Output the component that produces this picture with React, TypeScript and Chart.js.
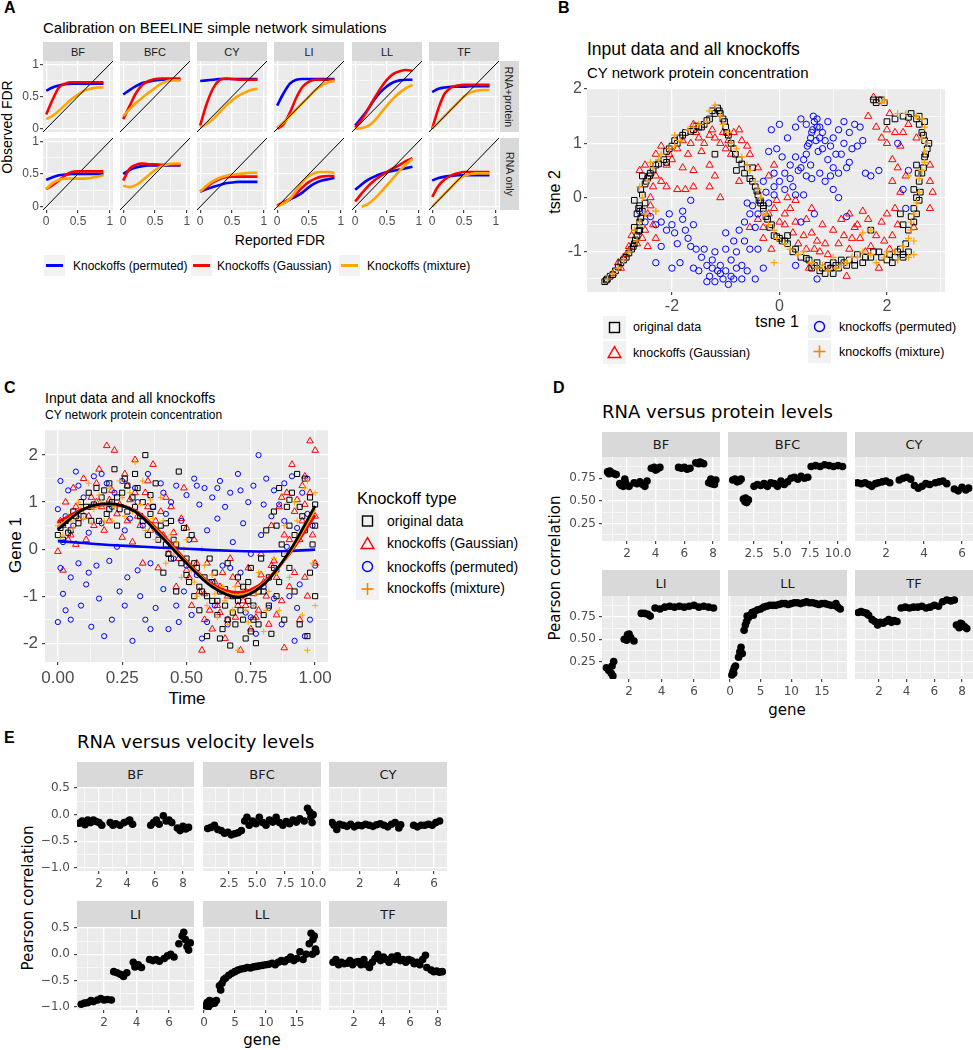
import React, { useEffect, useRef } from 'react';
import { Chart, registerables } from 'chart.js';
Chart.register(...registerables);

const FL = '"Liberation Sans", Arial, sans-serif';
const FD = '"DejaVu Sans", sans-serif';

// ---------------- Panel A data ----------------
const calibNets = ['BF', 'BFC', 'CY', 'LI', 'LL', 'TF'];
const calibRows = ['RNA+protein', 'RNA only'];
const reportedFdr = [0, 0.1, 0.2, 0.3, 0.4, 0.5, 0.6, 0.7, 0.8, 0.9];
const permutedProtein = [
  [0.59, 0.64, 0.67, 0.69, 0.70, 0.70, 0.70, 0.70, 0.70, 0.70],
  [0.53, 0.60, 0.66, 0.71, 0.73, 0.75, 0.76, 0.76, 0.76, 0.76],
  [0.74, 0.75, 0.76, 0.77, 0.77, 0.77, 0.77, 0.77, 0.77, 0.77],
  [0.36, 0.55, 0.70, 0.76, 0.77, 0.77, 0.77, 0.77, 0.77, 0.77],
  [0.05, 0.17, 0.30, 0.45, 0.57, 0.66, 0.72, 0.75, 0.76, 0.76],
  [0.57, 0.62, 0.64, 0.65, 0.65, 0.65, 0.66, 0.66, 0.66, 0.66],
];
const gaussianProtein = [
  [0.22, 0.45, 0.64, 0.70, 0.72, 0.72, 0.72, 0.72, 0.72, 0.72],
  [0.15, 0.35, 0.55, 0.68, 0.74, 0.77, 0.78, 0.78, 0.78, 0.78],
  [0.05, 0.38, 0.62, 0.75, 0.78, 0.77, 0.76, 0.76, 0.76, 0.76],
  [0.00, 0.07, 0.25, 0.48, 0.65, 0.73, 0.76, 0.76, 0.76, 0.76],
  [0.02, 0.14, 0.30, 0.47, 0.63, 0.76, 0.85, 0.89, 0.91, 0.90],
  [0.00, 0.32, 0.55, 0.64, 0.67, 0.68, 0.68, 0.68, 0.68, 0.68],
];
const mixtureProtein = [
  [0.15, 0.20, 0.28, 0.37, 0.46, 0.53, 0.59, 0.62, 0.64, 0.64],
  [0.20, 0.30, 0.40, 0.48, 0.56, 0.63, 0.70, 0.74, 0.75, 0.75],
  [0.02, 0.07, 0.15, 0.25, 0.35, 0.44, 0.51, 0.56, 0.60, 0.62],
  [0.02, 0.10, 0.20, 0.30, 0.40, 0.50, 0.60, 0.67, 0.72, 0.74],
  [0.00, 0.01, 0.04, 0.12, 0.24, 0.36, 0.47, 0.56, 0.63, 0.68],
  [0.00, 0.10, 0.20, 0.30, 0.40, 0.50, 0.56, 0.59, 0.60, 0.60],
];
const permutedRna = [
  [0.41, 0.45, 0.48, 0.49, 0.50, 0.50, 0.50, 0.50, 0.50, 0.50],
  [0.50, 0.56, 0.60, 0.62, 0.63, 0.63, 0.63, 0.63, 0.63, 0.63],
  [0.23, 0.27, 0.30, 0.33, 0.36, 0.37, 0.38, 0.38, 0.38, 0.38],
  [0.01, 0.06, 0.11, 0.16, 0.22, 0.30, 0.36, 0.40, 0.42, 0.44],
  [0.26, 0.34, 0.41, 0.46, 0.50, 0.53, 0.55, 0.57, 0.59, 0.61],
  [0.40, 0.44, 0.46, 0.47, 0.48, 0.48, 0.48, 0.48, 0.48, 0.48],
];
const gaussianRna = [
  [0.27, 0.33, 0.40, 0.48, 0.53, 0.54, 0.54, 0.54, 0.54, 0.54],
  [0.40, 0.58, 0.64, 0.66, 0.65, 0.65, 0.64, 0.64, 0.64, 0.64],
  [0.23, 0.30, 0.37, 0.42, 0.45, 0.46, 0.46, 0.46, 0.46, 0.46],
  [0.02, 0.07, 0.12, 0.20, 0.30, 0.38, 0.43, 0.46, 0.47, 0.47],
  [0.08, 0.20, 0.31, 0.40, 0.47, 0.53, 0.59, 0.64, 0.70, 0.74],
  [0.15, 0.32, 0.42, 0.48, 0.51, 0.53, 0.53, 0.53, 0.53, 0.53],
];
const mixtureRna = [
  [0.27, 0.36, 0.41, 0.43, 0.43, 0.43, 0.43, 0.44, 0.46, 0.48],
  [0.32, 0.30, 0.33, 0.40, 0.48, 0.56, 0.62, 0.65, 0.66, 0.66],
  [0.23, 0.32, 0.39, 0.44, 0.47, 0.49, 0.50, 0.51, 0.52, 0.52],
  [0.00, 0.05, 0.12, 0.25, 0.38, 0.47, 0.52, 0.53, 0.53, 0.52],
  [null, 0.00, 0.04, 0.12, 0.22, 0.33, 0.44, 0.55, 0.65, 0.73],
  [0.00, 0.10, 0.20, 0.30, 0.40, 0.47, 0.50, 0.51, 0.51, 0.51],
];
const fdrMajor = [0, 0.5, 1];
const fdrMinor = [0.25, 0.75];
const identityLine = [-0.05, 1.05];

// ---------------- Panel B data (tsne) ----------------
const tsneOriginal = [
  [-3.25, -1.55], [-3.2, -1.5], [-3.15, -1.45], [-3.05, -1.35], [-2.95, -1.2], [-2.85, -1.1], [-2.75, -0.95], [-2.7, -0.85],
  [-2.65, -0.7], [-2.7, -0.55], [-2.6, -0.45], [-2.65, -0.3], [-2.55, -0.25], [-2.6, -0.15], [-2.7, -0.05], [-2.55, 0.05],
  [-2.5, 0.25], [-2.45, 0.35], [-2.55, 0.4], [-2.4, 0.45], [-2.3, 0.6], [-2.15, 0.7], [-2.1, 0.85], [-2.0, 0.95],
  [-1.95, 1.05], [-1.85, 1.1], [-1.75, 1.2], [-1.6, 1.25], [-1.5, 1.3], [-1.4, 1.35], [-1.3, 1.45], [-1.25, 1.6],
  [-1.15, 1.65], [-1.1, 1.55], [-1.05, 1.45], [-1.0, 1.3], [-0.95, 1.15], [-0.85, 0.9], [-0.75, 0.7], [-0.8, 0.5],
  [-0.6, 0.55], [-0.55, 0.35], [-0.45, 0.2], [-0.4, 0.05], [-0.35, -0.1], [-0.3, -0.2], [-0.25, -0.35], [-0.15, -0.5],
  [-0.1, -0.7], [0.0, -0.75], [0.05, -0.8], [0.15, -0.85], [0.25, -1.0], [0.4, -1.1], [0.55, -1.15], [0.7, -1.2],
  [0.8, -1.3], [0.9, -1.25], [1.0, -1.2], [1.1, -1.3], [1.2, -1.2], [1.3, -1.15], [1.45, -1.05], [1.6, -1.1],
  [1.75, -1.0], [1.9, -1.1], [2.05, -1.05], [2.2, -1.0], [2.3, -1.05], [2.35, -0.85], [2.3, -0.5], [2.45, -0.35],
  [2.5, -0.2], [2.55, 0.0], [2.5, 0.15], [2.6, 0.3], [2.65, 0.45], [2.55, 0.6], [2.7, 0.75], [2.75, 0.9],
  [2.7, 1.05], [2.65, 1.2], [2.6, 1.35], [2.6, 1.5], [2.45, 1.55], [2.3, 1.5], [2.15, 1.45], [2.0, 1.4],
  [1.75, 1.8], [1.85, 1.8], [1.95, 1.75], [2.3, -1.1], [1.0, -1.4], [1.7, -0.6], [-0.5, 0.55], [-1.2, 0.8],
  [-2.1, 0.65], [0.15, -0.7], [2.25, -0.3], [0.6, -1.3], [0.85, -1.4], [1.4, -1.25], [2.1, -1.2], [-2.6, -0.6],
  [-3.22, -1.52], [-3.1, -1.42], [-3.0, -1.28], [-2.9, -1.15], [-2.8, -1.02], [-2.72, -0.9], [-2.68, -0.78], [-2.62, -0.62],
  [-2.58, -0.38], [-2.62, -0.2], [-2.5, -0.1], [-2.58, 0.15], [-2.48, 0.3], [-2.42, 0.4], [-2.35, 0.52], [-2.25, 0.62],
  [-2.05, 0.9], [-1.9, 1.0], [-1.8, 1.15], [-1.65, 1.22], [-1.55, 1.32], [-1.45, 1.3], [-1.35, 1.42], [-1.2, 1.55],
  [-1.12, 1.6], [-1.02, 1.4], [-0.98, 1.2], [-0.9, 1.0], [-0.82, 0.8], [-0.7, 0.62], [-0.65, 0.45], [-0.5, 0.3],
  [-0.42, 0.12], [-0.38, -0.05], [-0.3, -0.15], [-0.22, -0.4], [-0.18, -0.55], [-0.05, -0.72], [0.1, -0.8], [0.3, -0.95],
  [0.5, -1.12], [0.65, -1.25], [0.75, -1.35], [0.95, -1.3], [1.05, -1.25], [1.15, -1.15], [1.25, -1.25], [1.4, -1.15],
  [1.55, -1.2], [1.7, -1.1], [1.85, -1.0], [2.0, -1.15], [2.15, -1.1], [2.25, -0.95], [2.4, -1.0], [2.4, -0.6],
  [2.5, -0.45], [2.55, -0.3], [2.6, -0.05], [2.62, 0.1], [2.58, 0.45], [2.68, 0.55], [2.72, 0.8], [2.78, 1.0],
  [2.68, 1.15], [2.7, 1.4], [2.55, 1.45], [2.4, 1.48], [1.8, 1.75], [1.9, 1.8],
];
const tsneGaussian = [
  [-3.1, -1.4], [-2.95, -1.3], [-2.85, -1.05], [-2.75, -0.7], [-2.5, -0.6], [-2.45, -0.3], [-2.4, 0.0], [-2.35, 0.2],
  [-2.6, 0.5], [-2.3, 0.4], [-2.2, 0.3], [-2.1, 0.6], [-2.05, 0.8], [-1.9, 0.9], [-1.8, 1.05], [-1.65, 1.0],
  [-1.5, 1.1], [-1.4, 1.0], [-1.3, 1.15], [-1.2, 1.1], [-1.1, 1.0], [-0.95, 1.05], [-0.85, 1.2], [-0.75, 1.25],
  [-0.6, 0.95], [-0.55, 0.8], [-0.4, 0.55], [-0.2, 0.4], [-0.1, 0.6], [-2.0, 0.7], [-1.8, 0.55], [-1.6, 0.5],
  [-1.3, 0.6], [-1.6, 0.2], [-1.75, 0.15], [-1.9, 0.15], [-1.1, 0.0], [-0.55, -0.55], [-0.4, -0.4], [-0.2, -0.3],
  [0.1, -0.3], [0.1, -0.5], [0.3, -0.45], [0.25, -0.65], [0.45, -0.7], [0.6, -0.65], [0.7, -0.8], [0.85, -0.85],
  [1.0, -0.6], [1.2, -0.7], [1.4, -0.55], [1.5, -0.75], [1.65, -0.4], [1.7, -0.9], [1.95, -0.8], [2.1, -0.7],
  [2.2, -0.5], [2.15, -0.2], [2.25, 0.1], [2.35, 0.4], [2.1, 0.7], [2.25, 0.95], [2.3, 1.2], [2.55, 1.1],
  [2.8, 0.6], [2.8, -0.2], [2.0, 1.25], [1.8, 1.3], [1.65, 1.5], [1.75, 1.85], [0.3, -0.05], [0.95, -1.3],
  [1.25, -1.45], [0.55, -1.3], [-0.15, -0.95], [-0.3, -0.75], [1.15, -0.4], [0.6, -0.2], [1.45, -0.5], [2.05, 1.55],
  [-2.8, -0.9], [-2.45, -0.9], [-2.3, -0.75], [0.0, -0.45], [0.5, -0.95], [0.75, -1.0], [1.3, -0.95], [1.85, -1.3],
  [-2.9, -1.1], [-2.65, -0.85], [-2.55, -0.75], [-2.35, -0.5], [-2.5, 0.6], [-2.3, 0.8], [-2.2, 0.95], [-1.7, 0.8],
  [-1.55, 1.2], [-1.45, 0.85], [-1.25, 1.25], [-1.0, 0.9], [-0.9, 0.8], [-0.7, 1.05], [-0.75, 0.3], [-1.3, 0.2],
  [-2.1, 0.2], [-1.2, 0.4], [-0.3, -0.55], [-0.1, -0.2], [0.2, -0.2], [0.35, -0.85], [0.5, -0.4], [0.65, -0.95],
  [0.8, -0.5], [0.9, -1.05], [1.1, -0.85], [1.3, -0.3], [1.35, -0.75], [1.55, -0.25], [1.6, -1.0], [1.8, -0.7],
  [1.9, -0.45], [2.05, -0.95], [2.0, -0.3], [2.1, 0.3], [2.2, 0.55], [2.0, 1.0], [2.4, 1.35], [2.15, 1.2],
  [1.9, 1.1], [2.5, -0.55], [2.8, 0.3], [2.85, 0.1], [-0.05, -0.05], [0.15, 0.0], [-1.05, 1.2], [-1.6, 1.35],
  [-2.4, -0.15], [-3.0, -1.2],
];
const tsnePermuted = [
  [-2.6, -0.25], [-2.4, -0.35], [-2.3, -0.5], [-2.1, -0.6], [-1.95, -0.65], [-1.9, -0.85], [-2.05, -0.3], [-1.8, -0.4],
  [-1.6, -0.5], [-1.7, -0.75], [-1.55, -0.95], [-1.45, -1.1], [-1.35, -1.25], [-1.3, -1.45], [-1.2, -1.55], [-1.05, -1.5],
  [-0.9, -1.45], [-0.8, -1.3], [-0.7, -1.25], [-1.1, -1.25], [-1.2, -1.0], [-1.0, -0.95], [-0.85, -0.8], [-0.75, -0.6],
  [-0.65, -0.45], [-0.55, -0.3], [-0.5, -0.15], [-0.6, -0.1], [-0.35, -0.05], [-0.25, 0.1], [-0.1, 0.2], [0.0, 0.3],
  [-2.3, -1.2], [-2.0, -1.3], [-1.8, -0.25], [-1.65, -0.05], [-1.0, -0.65], [-0.9, -1.15], [-0.4, -0.95], [-1.5, -1.35],
  [0.1, 0.45], [0.2, 0.6], [0.3, 0.75], [0.4, 0.55], [0.5, 0.8], [0.55, 1.0], [0.6, 1.2], [0.65, 1.4],
  [0.7, 1.3], [0.75, 1.1], [0.8, 0.9], [0.9, 0.7], [1.0, 0.55], [1.1, 0.45], [1.15, 0.8], [1.2, 1.0],
  [1.3, 1.2], [1.4, 1.35], [1.5, 1.3], [1.45, 0.95], [1.3, 0.65], [0.9, 1.4], [0.5, 1.35], [0.3, 1.3],
  [-0.2, 0.85], [-0.05, 0.9], [0.0, 1.35], [-0.15, 1.25], [0.05, 0.75], [0.25, 0.2], [0.45, 0.05], [0.6, 0.35],
  [0.85, 0.3], [1.0, 0.15], [1.1, 0.0], [1.6, 0.45], [1.7, 0.4], [2.4, 0.5], [2.3, 0.15], [2.2, 1.0],
  [0.65, -0.3], [0.4, -0.45], [0.7, -1.5], [-0.55, -0.95], [1.25, -0.35], [0.3, -1.25], [0.62, 1.25], [0.68, 1.05],
  [0.72, 0.85], [0.58, 0.6], [-1.25, -1.3], [-1.1, -1.4], [-0.95, -1.6], [-1.35, -1.55], [-0.7, -1.5], [-0.45, -1.5],
  [-2.5, -0.45], [-2.2, -0.45], [-2.0, -0.5], [-1.75, -0.6], [-1.65, -0.9], [-1.4, -0.95], [-1.25, -1.15], [-1.15, -1.35],
  [-1.0, -1.35], [-0.85, -1.5], [-0.6, -1.35], [-0.8, -1.0], [-0.65, -0.8], [-0.45, -0.55], [-0.4, -0.3], [-0.2, -0.1],
  [-0.1, 0.05], [0.1, 0.15], [0.2, 0.35], [0.35, 0.5], [0.45, 0.7], [0.52, 0.95], [0.58, 1.1], [0.63, 1.5],
  [0.7, 1.45], [0.75, 1.3], [0.8, 1.2], [0.85, 1.05], [0.95, 0.95], [1.05, 0.8], [1.0, 1.1], [1.1, 1.25],
  [1.2, 1.4], [1.35, 0.9], [1.25, 0.55], [0.95, 0.4], [0.75, 0.45], [0.5, 0.4], [0.3, 0.05], [-0.3, 0.3],
  [-1.85, -1.2], [-2.2, -0.9], [-0.1, 0.45], [0.15, 1.1], [0.4, 1.45], [1.55, 1.05], [1.85, 0.5], [2.35, -0.2],
  [-0.3, -1.3], [-1.6, -1.3],
];
const tsneMixture = [
  [-3.2, -1.5], [-3.0, -1.3], [-2.8, -1.0], [-2.7, -0.6], [-2.5, -0.3], [-2.3, -0.25], [-2.6, 0.2], [-2.35, 0.55],
  [-2.25, 0.7], [-2.05, 0.9], [-1.85, 1.05], [-1.7, 1.25], [-1.5, 1.35], [-1.35, 1.4], [-1.2, 1.7], [-1.05, 1.35],
  [-0.9, 1.0], [-0.7, 0.75], [-0.55, 0.5], [-0.45, 0.3], [-0.35, 0.0], [-0.2, -0.5], [-0.05, -0.75], [0.2, -0.95],
  [0.45, -1.0], [0.7, -1.3], [0.9, -1.35], [1.15, -1.25], [1.35, -1.1], [1.55, -1.0], [1.8, -1.2], [2.0, -1.0],
  [2.2, -1.15], [2.4, -1.1], [2.5, -0.8], [2.45, -0.45], [2.55, -0.1], [2.6, 0.35], [2.7, 0.65], [2.75, 1.0],
  [2.7, 1.3], [2.55, 1.5], [2.2, 1.55], [1.9, 1.75], [1.7, -0.6], [2.4, -0.75], [-0.1, -1.2], [2.4, 0.4],
  [-2.3, -0.25], [-2.4, 0.65], [-1.95, 1.15], [-0.3, -0.3], [1.0, -1.1], [2.65, 1.1],
  [-3.1, -1.4], [-2.9, -1.15], [-2.65, -0.8], [-2.6, -0.45], [-2.55, 0.0], [-2.45, 0.3], [-2.2, 0.8], [-1.95, 0.95],
  [-1.6, 1.3], [-1.3, 1.6], [-1.1, 1.5], [-0.95, 1.2], [-0.8, 0.9], [-0.6, 0.6], [-0.4, 0.15], [-0.25, -0.3],
  [-0.1, -0.6], [0.1, -0.85], [0.35, -1.05], [0.6, -1.2], [0.8, -1.25], [1.05, -1.3], [1.25, -1.2], [1.45, -1.1],
  [1.7, -1.05], [1.95, -1.1], [2.15, -1.0], [2.3, -0.9], [2.45, -0.6], [2.5, -0.3], [2.6, 0.1], [2.65, 0.5],
  [2.7, 0.85], [2.65, 1.45], [2.35, 1.55], [1.95, 1.8], [2.5, -1.05], [1.55, -0.65],
];

// ---------------- Panel C data ----------------
const timeGrid = [0, 0.1, 0.2, 0.3, 0.4, 0.5, 0.6, 0.7, 0.8, 0.9, 1.0];
const fitOriginal = [0.42, 0.85, 0.97, 0.80, 0.28, -0.30, -0.80, -1.02, -0.75, -0.05, 0.92];
const fitMixture = [0.48, 0.84, 0.96, 0.81, 0.31, -0.28, -0.78, -0.98, -0.73, -0.08, 0.85];
const fitGaussian = [0.58, 0.85, 0.95, 0.82, 0.35, -0.25, -0.75, -0.92, -0.70, -0.10, 0.72];
const fitPermuted = [0.17, 0.13, 0.09, 0.06, 0.03, 0.01, -0.02, -0.04, -0.05, -0.04, -0.01];
const geneOriginal = [
  [0.0, 0.3], [0.01, 0.45], [0.02, 0.2], [0.03, 0.6], [0.05, 0.4], [0.06, 0.8], [0.08, 0.55], [0.09, 1.0],
  [0.1, 0.7], [0.12, 1.2], [0.13, 0.9], [0.15, 1.3], [0.16, 0.6], [0.17, 1.1], [0.19, 0.75], [0.2, 1.4],
  [0.21, 1.0], [0.22, 1.7], [0.23, 0.5], [0.25, 1.2], [0.26, 1.5], [0.27, 0.8], [0.29, 1.1], [0.3, 1.6],
  [0.31, 1.3], [0.32, 0.7], [0.33, 1.0], [0.34, 2.0], [0.35, 0.3], [0.37, 0.9], [0.38, 1.4], [0.4, 0.5],
  [0.41, -0.5], [0.42, 0.1], [0.43, -0.1], [0.44, 0.6], [0.45, 0.2], [0.46, -0.9], [0.47, 1.65], [0.48, -0.3],
  [0.49, 0.45], [0.5, -0.2], [0.51, -0.7], [0.52, 0.3], [0.53, -1.0], [0.54, -0.4], [0.55, -1.3], [0.57, -0.6],
  [0.58, -1.85], [0.59, -0.2], [0.6, -1.1], [0.61, -0.5], [0.62, -1.4], [0.63, -0.9], [0.64, -1.7], [0.65, -1.2],
  [0.66, -0.3], [0.67, -2.05], [0.68, -1.0], [0.69, -1.6], [0.7, -0.6], [0.71, -1.3], [0.72, -0.8], [0.73, -1.9],
  [0.74, -1.1], [0.75, -0.4], [0.76, -1.5], [0.77, -2.0], [0.78, -0.9], [0.79, -0.2], [0.8, -1.4], [0.81, 0.4],
  [0.82, -0.6], [0.83, -1.8], [0.84, 0.8], [0.85, -1.0], [0.86, 1.3], [0.87, 0.1], [0.88, -1.5], [0.89, 0.9],
  [0.9, -0.4], [0.91, 1.2], [0.92, 0.3], [0.93, 1.6], [0.94, -1.6], [0.95, 0.7], [0.96, 1.5], [0.97, -1.85],
  [0.98, 1.1], [0.99, 0.1], [1.0, -1.0], [1.0, 0.95], [0.14, 0.95], [0.24, 0.85], [0.36, 1.15], [0.56, -0.9],
  [0.02, 0.55], [0.04, 0.35], [0.07, 0.7], [0.11, 0.9], [0.13, 0.6], [0.18, 1.25], [0.2, 0.85], [0.23, 1.1],
  [0.27, 1.35], [0.3, 0.9], [0.33, 0.6], [0.36, 0.75], [0.39, 0.2], [0.42, 0.55], [0.44, -0.2], [0.46, 0.1],
  [0.5, -0.55], [0.53, -0.3], [0.55, -0.8], [0.58, -1.0], [0.6, -0.7], [0.62, -1.1], [0.65, -0.85], [0.66, -1.5],
  [0.68, -1.35], [0.7, -1.1], [0.72, -1.5], [0.74, -0.7], [0.76, -1.2], [0.78, -1.6], [0.8, -0.9], [0.82, -1.2],
  [0.84, -0.4], [0.86, -0.7], [0.88, -0.1], [0.9, 0.5], [0.92, -0.9], [0.94, 0.9], [0.96, 0.4], [0.98, -0.5],
  [1.0, 0.5], [0.85, 0.5], [0.9, 1.05], [0.75, -1.75], [0.63, -1.9],
];
const geneGaussian = [
  [0.0, -0.05], [0.01, 0.6], [0.02, -0.45], [0.03, 1.0], [0.05, 0.3], [0.06, 1.3], [0.07, 0.1], [0.09, 0.8],
  [0.1, 1.5], [0.11, 0.2], [0.13, 1.1], [0.14, 0.5], [0.16, 1.7], [0.17, 0.9], [0.19, 2.2], [0.2, 0.6],
  [0.21, 1.25], [0.22, 2.1], [0.24, 0.95], [0.25, 0.25], [0.26, 1.6], [0.28, 1.05], [0.29, 0.15], [0.3, 1.9],
  [0.31, 0.7], [0.33, -0.3], [0.34, 1.2], [0.36, 0.4], [0.37, 1.8], [0.39, -0.4], [0.4, 0.8], [0.42, 1.1],
  [0.43, -0.1], [0.45, 0.35], [0.46, -0.8], [0.48, 0.65], [0.49, 1.3], [0.5, -0.45], [0.52, -1.2], [0.53, 0.2],
  [0.55, -0.9], [0.56, -2.15], [0.57, -1.5], [0.58, -0.3], [0.6, -1.7], [0.61, -0.7], [0.62, -1.2], [0.64, -0.5],
  [0.65, -1.9], [0.66, -1.0], [0.67, -0.2], [0.69, -1.45], [0.7, -0.75], [0.71, -2.15], [0.72, -1.1], [0.74, -0.4],
  [0.75, -1.7], [0.76, -0.95], [0.78, -1.3], [0.79, -0.1], [0.8, -0.7], [0.82, -1.6], [0.83, 0.5], [0.84, -0.25],
  [0.86, 0.9], [0.87, -1.1], [0.88, -2.1], [0.89, 1.2], [0.9, 0.2], [0.91, 1.8], [0.92, -0.5], [0.93, 1.05],
  [0.94, -1.5], [0.95, 0.6], [0.96, 1.55], [0.97, -1.0], [0.98, 2.3], [0.99, 0.3], [1.0, 2.1], [1.0, -0.3],
  [0.08, 0.65], [0.15, 1.0], [0.27, 1.35], [0.35, 0.9], [0.63, -1.35], [0.73, -1.2], [0.85, -0.6], [0.96, 0.95],
  [0.02, 0.5], [0.04, 0.2], [0.07, 0.9], [0.12, 0.7], [0.15, 1.4], [0.18, 0.4], [0.2, 1.05], [0.23, 0.75],
  [0.27, 0.6], [0.3, 1.2], [0.32, 0.5], [0.35, 1.45], [0.38, 0.6], [0.41, 0.3], [0.44, 0.9], [0.47, -0.2],
  [0.5, 0.45], [0.51, -0.6], [0.54, -0.3], [0.57, -0.95], [0.59, -1.3], [0.63, -0.8], [0.66, -1.5], [0.68, -0.6],
  [0.7, -1.2], [0.73, -0.9], [0.77, -1.45], [0.79, -0.55], [0.81, -1.0], [0.83, -0.35], [0.85, -1.4], [0.88, 0.3],
  [0.9, -0.8], [0.92, 0.8], [0.94, 0.2], [0.96, -0.6], [0.98, 1.2], [1.0, 0.7], [0.87, 1.1], [0.95, 1.35],
];
const genePermuted = [
  [0.0, -1.55], [0.0, 0.85], [0.01, -0.4], [0.01, 1.45], [0.02, -0.95], [0.02, 0.15], [0.03, -1.3], [0.04, 1.25],
  [0.05, -0.6], [0.05, -1.5], [0.06, 0.5], [0.07, 1.65], [0.08, -0.3], [0.09, -1.2], [0.1, 1.1], [0.11, -0.75],
  [0.12, 0.35], [0.13, -1.65], [0.14, 1.55], [0.15, -0.35], [0.16, -1.05], [0.17, 0.55], [0.18, -1.85], [0.19, 1.4],
  [0.2, -0.25], [0.21, -1.5], [0.22, 1.2], [0.23, 0.05], [0.24, -0.9], [0.25, 1.45], [0.26, -1.2], [0.27, -0.6],
  [0.28, 0.65], [0.29, -1.95], [0.3, 1.3], [0.31, -0.45], [0.32, -1.0], [0.33, 0.5], [0.34, -1.5], [0.35, 1.6],
  [0.36, -0.3], [0.37, 0.9], [0.38, -1.25], [0.39, 0.35], [0.4, 1.4], [0.41, -0.85], [0.42, 0.75], [0.43, -1.7],
  [0.44, 1.0], [0.45, -0.2], [0.46, 1.35], [0.47, -1.55], [0.48, 0.6], [0.49, -0.9], [0.5, 1.15], [0.51, 0.2],
  [0.52, -1.4], [0.53, 1.5], [0.54, -0.55], [0.55, 0.95], [0.56, -1.9], [0.57, 1.3], [0.58, 0.4], [0.59, -0.7],
  [0.6, 1.1], [0.61, -1.2], [0.62, 0.65], [0.63, 1.45], [0.64, -0.35], [0.65, 0.9], [0.66, -1.6], [0.67, 1.2],
  [0.68, 0.15], [0.69, -0.95], [0.7, 1.6], [0.71, -0.5], [0.72, 0.55], [0.73, -1.35], [0.74, 1.0], [0.75, -0.1],
  [0.76, 1.35], [0.77, -1.8], [0.78, 2.0], [0.79, 0.3], [0.8, -0.8], [0.81, 1.5], [0.82, -1.25], [0.83, 0.7],
  [0.84, 1.25], [0.85, -0.45], [0.86, 0.95], [0.87, -1.6], [0.88, 1.4], [0.89, 0.05], [0.9, -1.0], [0.91, 1.55],
  [0.92, -1.95], [0.93, 0.45], [0.94, -0.75], [0.95, 1.2], [0.96, -1.85], [0.97, 0.75], [0.98, -1.5], [0.99, 0.5],
  [1.0, -0.35], [0.03, 0.7], [0.08, 1.35], [0.12, -0.5], [0.17, 1.6], [0.21, 0.9], [0.26, 0.4], [0.31, 1.0],
  [0.36, -1.7], [0.41, 1.2], [0.46, -1.2], [0.5, -0.35], [0.54, 1.35], [0.58, -1.55], [0.62, 1.3], [0.67, -0.4],
  [0.71, 1.25], [0.75, -1.45], [0.8, 0.95], [0.84, -1.05], [0.88, 0.6], [0.93, -1.25], [0.97, 1.5],
];
const geneMixture = [
  [0.0, 0.5], [0.02, 0.3], [0.04, 0.7], [0.06, 0.45], [0.08, 1.0], [0.1, 0.65], [0.12, 1.4], [0.14, 0.85],
  [0.16, 1.15], [0.18, 0.6], [0.2, 1.3], [0.22, 0.9], [0.24, 1.45], [0.26, 0.7], [0.28, 1.2], [0.3, 1.85],
  [0.32, 0.95], [0.34, 0.4], [0.36, 1.05], [0.38, 0.2], [0.4, 1.1], [0.42, -0.3], [0.44, 0.3], [0.46, 0.15],
  [0.48, -0.6], [0.5, 0.2], [0.52, -0.45], [0.54, -1.0], [0.56, 0.0], [0.58, -1.2], [0.6, -0.55], [0.62, -1.45],
  [0.64, -0.8], [0.66, -1.6], [0.68, -1.3], [0.7, -2.15], [0.72, -0.9], [0.74, -1.55], [0.76, -1.2], [0.78, -0.5],
  [0.8, -1.75], [0.82, -0.9], [0.84, -0.2], [0.86, -1.3], [0.88, 0.5], [0.9, -0.6], [0.92, 1.0], [0.94, 0.3],
  [0.95, -1.4], [0.96, 1.3], [0.97, -2.15], [0.98, 0.6], [1.0, -1.2], [1.0, 1.2],
  [0.01, 0.2], [0.05, 0.6], [0.09, 0.85], [0.13, 0.55], [0.17, 1.0], [0.21, 0.6], [0.25, 1.1], [0.29, 0.8],
  [0.33, 1.45], [0.37, 0.65], [0.41, 0.6], [0.45, -0.1], [0.49, 0.0], [0.53, -0.7], [0.57, -0.35], [0.61, -0.95],
  [0.65, -1.1], [0.69, -0.8], [0.73, -1.3], [0.77, -0.95], [0.81, -1.3], [0.85, -0.5], [0.89, -0.1], [0.93, 0.6],
  [0.97, 1.45], [0.99, -0.3],
];

// ---------------- Panel D data (RNA vs protein) ----------------
const protBF = [
  [0.65, 0.82], [0.8, 0.83], [0.95, 0.81], [1.1, 0.8], [1.25, 0.79], [0.75, 0.8],
  [1.5, 0.69], [1.6, 0.67], [1.75, 0.66], [1.85, 0.74], [2.0, 0.67], [2.15, 0.66], [1.9, 0.7],
  [2.5, 0.7], [2.7, 0.69], [2.9, 0.71], [3.1, 0.68], [3.25, 0.66], [3.4, 0.72],
  [3.7, 0.86], [3.9, 0.87], [4.1, 0.85], [4.3, 0.87], [4.0, 0.84],
  [5.6, 0.87], [5.8, 0.86], [6.0, 0.87], [6.2, 0.85], [6.4, 0.86],
  [6.8, 0.92], [7.0, 0.91], [7.2, 0.92], [7.35, 0.91], [7.1, 0.93],
  [7.7, 0.7], [7.85, 0.74], [8.0, 0.71], [8.1, 0.68], [8.2, 0.73], [7.9, 0.69],
];
const protBFC = [
  [0.6, 0.73], [0.8, 0.74], [1.0, 0.71], [1.2, 0.72], [1.35, 0.74],
  [1.55, 0.52], [1.7, 0.49], [1.85, 0.48], [2.0, 0.51], [1.75, 0.53],
  [2.5, 0.66], [2.8, 0.68], [3.1, 0.67], [3.4, 0.69], [3.7, 0.66], [4.0, 0.7],
  [4.3, 0.69], [4.6, 0.66], [4.9, 0.72], [5.2, 0.68], [5.5, 0.71],
  [5.8, 0.75], [6.1, 0.76], [6.4, 0.74], [6.7, 0.77], [7.0, 0.75], [7.3, 0.76],
  [7.6, 0.88], [8.0, 0.89], [8.4, 0.88], [8.8, 0.9], [9.2, 0.89], [9.6, 0.88], [10.0, 0.89], [10.4, 0.88],
];
const protCY = [
  [0.5, 0.7], [0.7, 0.69], [0.9, 0.7], [1.1, 0.68], [1.25, 0.66], [1.45, 0.69], [1.6, 0.7], [1.8, 0.71],
  [2.0, 0.72], [2.2, 0.7], [2.7, 0.73], [2.9, 0.75], [3.1, 0.76], [3.3, 0.74], [3.5, 0.67], [3.7, 0.64],
  [3.9, 0.66], [4.1, 0.69], [4.3, 0.68], [4.6, 0.7], [4.8, 0.71], [5.0, 0.72], [5.2, 0.69], [5.6, 0.63],
  [5.8, 0.61], [6.0, 0.65], [6.2, 0.62], [6.35, 0.64],
];
const protLI = [
  [0.6, 0.18], [0.75, 0.15], [0.9, 0.12], [1.0, 0.09], [1.05, 0.25], [0.95, 0.2],
  [1.7, 0.5], [1.9, 0.55], [2.1, 0.52], [2.3, 0.48], [2.0, 0.56], [1.85, 0.49],
  [2.75, 0.79], [2.95, 0.79], [3.15, 0.78], [3.3, 0.76],
  [3.6, 0.85], [3.9, 0.84], [4.2, 0.86], [4.5, 0.87], [4.8, 0.86], [5.1, 0.87], [5.4, 0.86], [5.7, 0.87],
  [6.0, 0.88], [6.3, 0.86], [6.6, 0.87], [6.9, 0.86], [7.2, 0.85],
];
const protLL = [
  [0.3, 0.1], [0.5, 0.14], [0.7, 0.18], [0.9, 0.2], [0.6, 0.12], [1.4, 0.3], [1.6, 0.36], [1.8, 0.41],
  [2.0, 0.34], [2.3, 0.6], [2.5, 0.66], [2.7, 0.7], [3.0, 0.74], [3.3, 0.77], [3.6, 0.8], [4.0, 0.81],
  [4.5, 0.83], [5.0, 0.84], [5.5, 0.86], [6.0, 0.87], [7.0, 0.88], [8.0, 0.89], [9.0, 0.9], [10.0, 0.9],
  [11.0, 0.91], [12.0, 0.91], [13.0, 0.91], [14.0, 0.9], [15.0, 0.9], [16.0, 0.89], [17.0, 0.88], [17.6, 0.86],
  [18.0, 0.84], [17.3, 0.9], [2.8, 0.76], [3.8, 0.77], [6.5, 0.88], [7.5, 0.88], [8.5, 0.9], [9.5, 0.89],
  [10.5, 0.91], [11.5, 0.9], [12.5, 0.92], [13.5, 0.91], [14.5, 0.89], [15.5, 0.9], [16.5, 0.88],
];
const protTF = [
  [0.5, 0.8], [0.7, 0.81], [0.9, 0.8], [1.1, 0.79], [1.25, 0.77], [1.5, 0.72], [1.7, 0.7], [1.9, 0.66],
  [2.1, 0.69], [2.3, 0.68], [2.5, 0.7], [2.7, 0.72], [2.9, 0.69], [3.1, 0.71], [3.3, 0.7], [3.6, 0.85],
  [3.9, 0.86], [4.2, 0.85], [4.5, 0.86], [4.8, 0.86], [5.1, 0.87], [5.4, 0.85], [5.7, 0.86], [6.0, 0.88],
  [6.3, 0.87], [6.6, 0.92], [6.9, 0.94], [7.2, 0.93], [7.45, 0.94], [7.6, 0.66], [7.8, 0.63], [8.0, 0.67],
  [8.2, 0.64], [8.35, 0.62], [7.9, 0.68],
];

// ---------------- Panel E data (RNA vs velocity) ----------------
const veloBF = [
  [0.6, -0.16], [0.8, -0.12], [1.0, -0.19], [1.2, -0.1], [1.4, -0.15], [1.6, -0.1], [1.8, -0.13], [2.0, -0.15],
  [2.2, -0.2], [2.8, -0.15], [3.0, -0.2], [3.2, -0.17], [3.5, -0.2], [3.8, -0.15], [4.1, -0.12], [4.4, -0.18],
  [4.2, -0.1], [5.7, -0.2], [5.9, -0.15], [6.1, -0.1], [6.3, -0.18], [6.6, -0.02], [6.8, -0.12], [7.0, -0.1],
  [7.2, -0.15], [7.6, -0.25], [7.8, -0.3], [8.0, -0.22], [8.2, -0.27], [8.4, -0.24],
];
const veloBFC = [
  [0.6, -0.26], [0.9, -0.24], [1.2, -0.2], [1.5, -0.28], [1.8, -0.3], [2.1, -0.35], [2.4, -0.33], [2.7, -0.38],
  [3.0, -0.36], [3.3, -0.34], [3.6, -0.3], [3.9, -0.12], [4.1, -0.05], [4.3, -0.2], [4.6, -0.12], [4.9, -0.17],
  [5.2, -0.05], [5.5, -0.15], [5.8, -0.2], [6.1, -0.1], [6.4, -0.14], [6.7, -0.05], [7.0, -0.15], [7.3, -0.2],
  [7.6, -0.13], [7.9, -0.17], [8.2, -0.1], [8.5, -0.14], [8.8, -0.08], [9.2, -0.12], [9.5, 0.12], [9.7, 0.05],
  [9.9, -0.15], [10.0, 0.0], [9.8, -0.05],
];
const veloCY = [
  [0.5, -0.15], [0.6, -0.2], [0.75, -0.28], [0.9, -0.18], [1.1, -0.2], [1.3, -0.22], [1.5, -0.18], [1.7, -0.23],
  [1.9, -0.2], [2.1, -0.21], [2.3, -0.18], [2.5, -0.2], [2.7, -0.22], [2.9, -0.19], [3.1, -0.17], [3.3, -0.2],
  [3.5, -0.23], [3.7, -0.18], [3.9, -0.15], [4.1, -0.25], [4.2, -0.19], [4.9, -0.2], [5.1, -0.23], [5.3, -0.2],
  [5.5, -0.2], [5.7, -0.18], [5.9, -0.2], [6.1, -0.15], [6.3, -0.12],
];
const veloLI = [
  [0.6, -0.95], [0.8, -0.93], [1.0, -0.92], [1.2, -0.88], [1.35, -0.9], [1.6, -0.87], [1.8, -0.84], [2.0, -0.87],
  [2.2, -0.86], [2.45, -0.87], [2.6, -0.33], [2.8, -0.35], [3.0, -0.38], [3.2, -0.42], [3.4, -0.35], [3.8, -0.15],
  [3.9, -0.24], [4.1, -0.2], [4.3, -0.25], [4.8, -0.1], [5.0, -0.12], [5.2, -0.1], [5.4, -0.13], [5.7, -0.08],
  [5.9, -0.03], [6.1, 0.0], [6.3, -0.05], [6.6, 0.2], [6.8, 0.35], [6.9, 0.42], [7.0, 0.28], [7.1, 0.15],
  [7.3, 0.22], [7.2, 0.08],
];
const veloLL = [
  [0.3, -0.98], [0.5, -0.92], [0.7, -1.0], [0.9, -0.88], [1.1, -0.95], [1.4, -0.9], [1.7, -0.93], [2.0, -0.88],
  [2.5, -0.6], [2.7, -0.68], [2.9, -0.55], [3.2, -0.48], [3.5, -0.45], [4.0, -0.4], [4.5, -0.36], [5.0, -0.33],
  [5.5, -0.3], [6.0, -0.28], [6.5, -0.27], [7.0, -0.25], [7.5, -0.26], [8.0, -0.24], [8.5, -0.23], [9.0, -0.22],
  [9.5, -0.21], [10.0, -0.2], [10.5, -0.19], [11.0, -0.17], [11.5, -0.2], [12.0, -0.15], [12.5, -0.12], [13.0, -0.14],
  [13.5, -0.1], [14.0, -0.05], [14.5, -0.12], [15.0, -0.08], [15.5, 0.05], [16.0, -0.1], [16.5, 0.0], [17.0, 0.2],
  [17.3, 0.4], [17.6, 0.28], [17.8, 0.35], [18.0, 0.1], [17.5, 0.0], [18.1, 0.05],
];
const veloTF = [
  [0.5, -0.15], [0.7, -0.1], [0.9, -0.2], [1.1, -0.15], [1.3, -0.18], [1.5, -0.17], [1.7, -0.12], [1.9, -0.2],
  [2.1, -0.15], [2.3, -0.14], [2.5, -0.2], [2.7, -0.1], [2.9, -0.2], [3.1, -0.25], [3.3, -0.15], [3.5, -0.08],
  [3.7, 0.0], [3.9, -0.12], [4.1, -0.05], [4.3, -0.1], [4.5, -0.15], [4.7, -0.05], [4.9, -0.1], [5.1, -0.03],
  [5.3, -0.12], [5.5, -0.1], [5.7, -0.15], [5.9, -0.1], [6.1, -0.12], [6.3, -0.18], [6.5, -0.15], [6.7, -0.2],
  [6.9, -0.1], [7.1, -0.02], [7.2, -0.25], [7.5, -0.3], [7.7, -0.33], [7.9, -0.32], [8.1, -0.34], [8.3, -0.33],
];

// gene axis ticks per network (major / minor)
const geneTicks: any = {
  BF: [[2, 4, 6, 8], [1, 3, 5, 7]],
  BFC: [[2.5, 5, 7.5, 10], [1.25, 3.75, 6.25, 8.75]],
  CY: [[2, 4, 6], [1, 3, 5]],
  LI: [[2, 4, 6], [1, 3, 5, 7]],
  LL: [[0, 5, 10, 15], [2.5, 7.5, 12.5, 17.5]],
  TF: [[2, 4, 6, 8], [1, 3, 5, 7]],
};
const protRange: any = { BF: [0.26, 8.49], BFC: [0.18, 10.8], CY: [0.37, 6.58], LI: [0.33, 7.6], LL: [-0.33, 19.1], TF: [0.26, 8.8] };
const veloRange: any = { BF: [0.43, 8.79], BFC: [0.18, 10.7], CY: [0.33, 6.7], LI: [0.34, 7.53], LL: [-0.16, 18.9], TF: [0.21, 8.64] };
const protData: any = { BF: protBF, BFC: protBFC, CY: protCY, LI: protLI, LL: protLL, TF: protTF };
const veloData: any = { BF: veloBF, BFC: veloBFC, CY: veloCY, LI: veloLI, LL: veloLL, TF: veloTF };

// ---------------- helpers ----------------
const PAD = 12;
const toPts = (arr: any[]) => arr.map((p: number[]) => ({ x: p[0], y: p[1] }));
const lineDs = (xs: number[], ys: (number | null)[], color: string, width: number, smooth = true) => ({
  data: xs.map((x, i) => ({ x, y: ys[i] })),
  showLine: true,
  borderColor: color,
  borderWidth: width,
  pointRadius: 0,
  fill: false,
  cubicInterpolationMode: smooth ? 'monotone' : 'default',
  tension: 0,
});
const scatterDs = (arr: any[], style: string, color: string, radius: number, filled = false, bw = 1) => ({
  data: toPts(arr),
  showLine: false,
  pointStyle: style,
  pointRadius: radius,
  pointBorderColor: color,
  pointBackgroundColor: filled ? color : 'rgba(0,0,0,0)',
  pointBorderWidth: bw,
});

const bgPlugin = {
  id: 'panelBg',
  beforeDraw(chart: any) {
    const { ctx, chartArea } = chart;
    if (!chartArea) return;
    ctx.save();
    ctx.fillStyle = '#EBEBEB';
    ctx.fillRect(chartArea.left, chartArea.top, chartArea.right - chartArea.left, chartArea.bottom - chartArea.top);
    ctx.restore();
  },
};

function axis(a: any, horizontal: boolean, family: string, fixed: number) {
  const minor = new Set(a.minor);
  const all = [...a.major, ...a.minor].sort((p: number, q: number) => p - q);
  const isMinor = (c: any) => !!(c && c.tick && minor.has(c.tick.value));
  return {
    type: 'linear',
    bounds: 'data',
    min: a.min,
    max: a.max,
    afterBuildTicks: (s: any) => { s.ticks = all.map((v: number) => ({ value: v })); },
    afterFit: (s: any) => { if (horizontal) s.height = fixed; else s.width = fixed; },
    ticks: {
      display: a.show, autoSkip: false, maxRotation: 0, minRotation: 0, padding: a.pad,
      color: '#4D4D4D', font: { family, size: a.size },
      callback: (v: number) => (minor.has(v) ? '' : a.fmt(v)),
    },
    grid: {
      color: '#FFFFFF',
      lineWidth: (c: any) => (isMinor(c) ? 0.6 : 1.3),
      drawTicks: a.show, tickLength: 3, tickWidth: 1.1,
      tickColor: (c: any) => (isMinor(c) ? 'rgba(0,0,0,0)' : '#333333'),
    },
    border: { display: false },
  };
}

const num = (v: number) => String(v);
const fix1 = (v: number) => v.toFixed(1);
const fix2 = (v: number) => v.toFixed(2);
const minusFix1 = (v: number) => (v < 0 ? '\u2212' + Math.abs(v).toFixed(1) : v.toFixed(1));

// ---------------- build panel specs ----------------
const SPECS: any[] = [];
const aLefts = [43, 120, 197, 274, 352, 429];
const aTops = [61, 138];
const aHeights = [71, 72];
calibNets.forEach((net, c) => {
  [0, 1].forEach((r) => {
    const perm = (r === 0 ? permutedProtein : permutedRna)[c];
    const gaus = (r === 0 ? gaussianProtein : gaussianRna)[c];
    const mix = (r === 0 ? mixtureProtein : mixtureRna)[c];
    SPECS.push({
      left: aLefts[c], top: aTops[r], w: 70, h: aHeights[r], yW: c === 0 ? 30 : 0, xH: r === 1 ? 18 : 0, family: FL,
      x: { min: -0.05, max: 1.05, major: fdrMajor, minor: fdrMinor, fmt: num, show: r === 1, size: 12, pad: 1 },
      y: { min: -0.05, max: 1.05, major: fdrMajor, minor: fdrMinor, fmt: num, show: c === 0, size: 12, pad: 1 },
      datasets: [
        lineDs(identityLine, identityLine, '#000000', 1, false),
        lineDs(reportedFdr, mix, '#FFA500', 2.6),
        lineDs(reportedFdr, gaus, '#FF0000', 2.6),
        lineDs(reportedFdr, perm, '#0000FF', 2.6),
      ],
    });
  });
});

SPECS.push({
  left: 587, top: 88, w: 358, h: 204, yW: 35, xH: 22, family: FL,
  x: { min: -3.58, max: 3.08, major: [-2, 0, 2], minor: [-3, -1, 1, 3], fmt: num, show: true, size: 16, pad: 2 },
  y: { min: -1.74, max: 2.02, major: [-1, 0, 1, 2], minor: [-1.5, -0.5, 0.5, 1.5], fmt: num, show: true, size: 16, pad: 2 },
  datasets: [
    scatterDs(tsneMixture, 'cross', '#FFA500', 3.5, false, 1.2),
    scatterDs(tsneOriginal, 'rect', '#000000', 4, false, 1),
    scatterDs(tsnePermuted, 'circle', '#0000FF', 3.2, false, 1),
    scatterDs(tsneGaussian, 'triangle', '#FF0000', 4.2, false, 1),
  ],
});

SPECS.push({
  left: 45, top: 428, w: 283, h: 234, yW: 40, xH: 24, family: FL,
  x: { min: -0.05, max: 1.05, major: [0, 0.25, 0.5, 0.75, 1], minor: [0.125, 0.375, 0.625, 0.875], fmt: fix2, show: true, size: 17, pad: 3 },
  y: { min: -2.4, max: 2.53, major: [-2, -1, 0, 1, 2], minor: [-1.5, -0.5, 0.5, 1.5], fmt: num, show: true, size: 17, pad: 4 },
  datasets: [
    lineDs(timeGrid, fitOriginal, '#000000', 2.8),
    lineDs(timeGrid, fitMixture, '#FFA500', 2.6),
    lineDs(timeGrid, fitGaussian, '#FF0000', 2.8),
    lineDs(timeGrid, fitPermuted, '#0000FF', 2.6),
    scatterDs(geneMixture, 'cross', '#FFA500', 3, false, 1),
    scatterDs(geneOriginal, 'rect', '#000000', 3.6, false, 1),
    scatterDs(genePermuted, 'circle', '#0000FF', 2.6, false, 1),
    scatterDs(geneGaussian, 'triangle', '#FF0000', 3.8, false, 1),
  ],
});

const dLefts = [602, 728, 855];
const dWidths = [118, 119, 118];
const dTops = [457, 596];
const dHeights = [84, 83];
const eLefts = [77, 203, 329];
const eWidths = [117, 118, 118];
const eTops = [787, 927];
const eHeights = [84, 83];
calibNets.forEach((net, i) => {
  const r = Math.floor(i / 3);
  const c = i % 3;
  const gx = { major: geneTicks[net][0], minor: geneTicks[net][1], fmt: net === 'BFC' ? fix1 : num, show: true, size: 12, pad: 3 };
  SPECS.push({
    left: dLefts[c], top: dTops[r], w: dWidths[c], h: dHeights[r], yW: c === 0 ? 40 : 0, xH: 18, family: FD,
    x: { ...gx, min: protRange[net][0], max: protRange[net][1] },
    y: { min: 0.055, max: 0.985, major: [0.25, 0.5, 0.75], minor: [0.125, 0.375, 0.625, 0.875], fmt: fix2, show: c === 0, size: 12, pad: 3 },
    datasets: [scatterDs(protData[net], 'circle', '#000000', 3.8, true, 0)],
  });
  SPECS.push({
    left: eLefts[c], top: eTops[r], w: eWidths[c], h: eHeights[r], yW: c === 0 ? 45 : 0, xH: 18, family: FD,
    x: { ...gx, min: veloRange[net][0], max: veloRange[net][1] },
    y: { min: -1.06, max: 0.52, major: [-1, -0.5, 0, 0.5], minor: [-0.75, -0.25, 0.25], fmt: minusFix1, show: c === 0, size: 12, pad: 4 },
    datasets: [scatterDs(veloData[net], 'circle', '#000000', 3.8, true, 0)],
  });
});

function makeConfig(s: any) {
  return {
    type: 'scatter',
    data: { datasets: s.datasets },
    options: {
      responsive: false,
      animation: false,
      devicePixelRatio: 1,
      events: [],
      layout: { padding: { left: PAD, right: PAD, top: PAD, bottom: PAD } },
      plugins: { legend: { display: false }, tooltip: { enabled: false }, title: { display: false } },
      scales: {
        x: axis(s.x, true, s.family, s.xH),
        y: axis(s.y, false, s.family, s.yW),
      },
    },
    plugins: [bgPlugin],
  };
}

// ---------------- HTML helpers ----------------
function T({ x, y, s, f = FL, w = 400, c = '#000000', a = 'start', rot = 0, children }: any) {
  const tx = a === 'middle' ? '-50%' : a === 'end' ? '-100%' : '0';
  const style: any = {
    position: 'absolute', left: x, top: y, fontSize: s, lineHeight: `${s}px`, fontFamily: f, fontWeight: w,
    color: c, whiteSpace: 'nowrap',
    transform: rot ? `translate(-50%, -50%) rotate(${rot}deg)` : `translate(${tx}, -50%)`,
  };
  return <div style={style}>{children}</div>;
}

function Strip({ left, top, w, h, text, f, s, vertical }: any) {
  return (
    <div style={{ position: 'absolute', left, top, width: w, height: h, background: '#D9D9D9', display: 'flex', alignItems: 'center', justifyContent: 'center', fontFamily: f, fontSize: s, color: '#1A1A1A', whiteSpace: 'nowrap', overflow: 'visible' }}>
      <span style={{ display: 'inline-block', transform: vertical ? 'rotate(90deg)' : undefined }}>{text}</span>
    </div>
  );
}

function Key({ left, top, w, h, shape, color, size = 10 }: any) {
  const cx = w / 2;
  const cy = h / 2;
  const r = size / 2;
  let el: any = null;
  if (shape === 'line') el = <line x1={cx - 8.5} y1={cy} x2={cx + 8.5} y2={cy} stroke={color} strokeWidth={3} />;
  if (shape === 'rect') el = <rect x={cx - r} y={cy - r} width={size} height={size} fill="none" stroke={color} strokeWidth={1.4} />;
  if (shape === 'circle') el = <circle cx={cx} cy={cy} r={r} fill="none" stroke={color} strokeWidth={1.4} />;
  if (shape === 'triangle') el = <polygon points={`${cx},${cy - r * 1.05} ${cx - r * 1.15},${cy + r * 0.9} ${cx + r * 1.15},${cy + r * 0.9}`} fill="none" stroke={color} strokeWidth={1.4} />;
  if (shape === 'cross') el = (
    <g stroke={color} strokeWidth={1.6}>
      <line x1={cx - r * 1.2} y1={cy} x2={cx + r * 1.2} y2={cy} />
      <line x1={cx} y1={cy - r * 1.2} x2={cx} y2={cy + r * 1.2} />
    </g>
  );
  return (
    <svg style={{ position: 'absolute', left, top }} width={w} height={h}>
      <rect x={0} y={0} width={w} height={h} fill="#F2F2F2" />
      {el}
    </svg>
  );
}

export default function App() {
  const refs = useRef<(HTMLCanvasElement | null)[]>([]);
  useEffect(() => {
    const charts = SPECS.map((s, i) => {
      const cv = refs.current[i];
      return cv ? new Chart(cv, makeConfig(s) as any) : null;
    });
    return () => charts.forEach((c) => c && c.destroy());
  }, []);

  return (
    <div style={{ position: 'absolute', left: 0, top: 0, width: 973, height: 1050, background: '#FFFFFF', overflow: 'hidden' }}>
      <T x={4} y={8} s={16} w={700}>A</T>
      <T x={558} y={8} s={16} w={700}>B</T>
      <T x={4} y={388} s={16} w={700}>C</T>
      <T x={553} y={388} s={16} w={700}>D</T>
      <T x={4} y={738} s={16} w={700}>E</T>

      <T x={43} y={27} s={15}>Calibration on BEELINE simple network simulations</T>
      {calibNets.map((n, c) => (
        <Strip key={'sa' + n} left={aLefts[c]} top={42} w={70} h={19} text={n} f={FL} s={11} />
      ))}
      {calibRows.map((n, r) => (
        <Strip key={'sr' + n} left={500} top={aTops[r]} w={19} h={aHeights[r]} text={n} f={FL} s={10.5} vertical />
      ))}
      <T x={7} y={127} s={14} rot={-90}>Observed FDR</T>
      <T x={280} y={240} s={14} a="middle">Reported FDR</T>
      <Key left={44} top={255} w={21} h={21} shape="line" color="#0000FF" />
      <T x={73} y={266} s={12}>Knockoffs (permuted)</T>
      <Key left={191} top={255} w={21} h={21} shape="line" color="#FF0000" />
      <T x={217} y={266} s={12}>Knockoffs (Gaussian)</T>
      <Key left={339} top={255} w={21} h={21} shape="line" color="#FFA500" />
      <T x={367} y={266} s={12}>Knockoffs (mixture)</T>

      <T x={587} y={50} s={17.5}>Input data and all knockoffs</T>
      <T x={587} y={72} s={15}>CY network protein concentration</T>
      <T x={777} y={322} s={16} a="middle">tsne 1</T>
      <T x={555} y={192} s={16} rot={-90}>tsne 2</T>
      <Key left={603} top={316} w={23} h={23} shape="rect" color="#000000" size={10} />
      <T x={633} y={327} s={12.5}>original data</T>
      <Key left={603} top={341} w={23} h={23} shape="triangle" color="#FF0000" size={11} />
      <T x={633} y={353} s={12.5}>knockoffs (Gaussian)</T>
      <Key left={808} top={315} w={23} h={23} shape="circle" color="#0000FF" size={10} />
      <T x={839} y={327} s={12.5}>knockoffs (permuted)</T>
      <Key left={808} top={340} w={23} h={23} shape="cross" color="#FF7F00" size={10} />
      <T x={839} y={352} s={12.5}>knockoffs (mixture)</T>

      <T x={45} y={398} s={14}>Input data and all knockoffs</T>
      <T x={45} y={415} s={12}>CY network protein concentration</T>
      <T x={15} y={545} s={17} rot={-90}>Gene 1</T>
      <T x={187} y={698} s={17} a="middle">Time</T>
      <T x={357} y={498} s={16.5}>Knockoff type</T>
      <Key left={356} top={510} w={23} h={22} shape="rect" color="#000000" size={10} />
      <Key left={356} top={532} w={23} h={23} shape="triangle" color="#FF0000" size={11} />
      <Key left={356} top={555} w={23} h={23} shape="circle" color="#0000FF" size={10} />
      <Key left={356} top={578} w={23} h={22} shape="cross" color="#FF7F00" size={10} />
      <T x={387} y={521} s={14}>original data</T>
      <T x={387} y={543} s={14}>knockoffs (Gaussian)</T>
      <T x={387} y={567} s={14}>knockoffs (permuted)</T>
      <T x={387} y={588} s={14}>knockoffs (mixture)</T>

      <T x={602} y={412} s={18} f={FD}>RNA versus protein levels</T>
      {calibNets.map((n, i) => (
        <Strip key={'sd' + n} left={dLefts[i % 3]} top={i < 3 ? 432 : 570} w={dWidths[i % 3]} h={i < 3 ? 25 : 26} text={n} f={FD} s={13} />
      ))}
      <T x={555} y={568} s={15} f={FD} rot={-90}>Pearson correlation</T>
      <T x={787} y={710} s={15} f={FD} a="middle">gene</T>

      <T x={77} y={742} s={18} f={FD}>RNA versus velocity levels</T>
      {calibNets.map((n, i) => (
        <Strip key={'se' + n} left={eLefts[i % 3]} top={i < 3 ? 762 : 901} w={eWidths[i % 3]} h={i < 3 ? 25 : 26} text={n} f={FD} s={13} />
      ))}
      <T x={28} y={898} s={15} f={FD} rot={-90}>Pearson correlation</T>
      <T x={262} y={1040} s={15} f={FD} a="middle">gene</T>

      {SPECS.map((s, i) => {
        const cw = s.w + s.yW + 2 * PAD;
        const ch = s.h + s.xH + 2 * PAD;
        return (
          <canvas
            key={'cv' + i}
            ref={(el) => { refs.current[i] = el; }}
            width={cw}
            height={ch}
            style={{ position: 'absolute', left: s.left - s.yW - PAD, top: s.top - PAD, width: cw, height: ch }}
          />
        );
      })}
    </div>
  );
}
